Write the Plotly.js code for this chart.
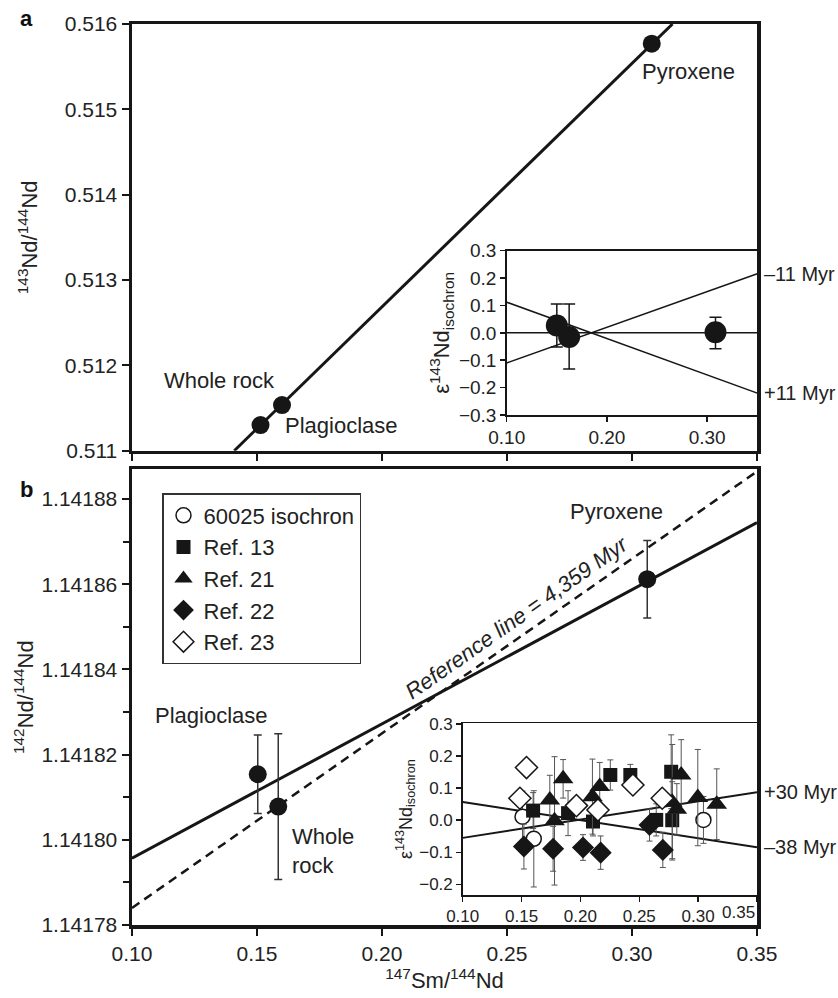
<!DOCTYPE html>
<html><head><meta charset="utf-8">
<script src="https://cdn.plot.ly/plotly-3.0.1.min.js"></script>
<style>html,body{margin:0;padding:0;background:#fff}</style>
</head><body><div id="chart" style="width:838px;height:998px"></div>
<script>
// ---------- Panel a: 143Nd/144Nd isochron ----------
const aSm = [0.1514, 0.1600, 0.3079];
const aNd = [0.51130, 0.511535, 0.51577];
const aLineX = [0.1409, 0.3162];
const aLineY = [0.511, 0.516];
const aYTicks = [0.511, 0.512, 0.513, 0.514, 0.515, 0.516];
const aYLabels = ['0.511', '0.512', '0.513', '0.514', '0.515', '0.516'];

// ---------- Panel a inset: eps143Nd residuals ----------
const iaSm = [0.150, 0.1623, 0.3083];
const iaEps = [0.027, -0.015, 0.002];
const iaErrPlus = [0.078, 0.120, 0.055];
const iaErrMinus = [0.079, 0.117, 0.060];
const iaZeroY = [0, 0];
const iaLineX = [0.10, 0.35];
const iaMinus11Y = [-0.110, 0.216];
const iaPlus11Y = [0.112, -0.220];
const iaXTicks = [0.10, 0.20, 0.30];
const iaXLabels = ['0.10', '0.20', '0.30'];
const iaYTicks = [-0.3, -0.2, -0.1, 0, 0.1, 0.2, 0.3];
const iaYLabels = ['\u22120.3', '\u22120.2', '\u22120.1', '0.0', '0.1', '0.2', '0.3'];

// ---------- Panel b: 142Nd/144Nd ----------
const bSm = [0.1503, 0.1585, 0.3061];
const bNd = [1.1418154, 1.1418078, 1.1418612];
const bErr = [0.0000092, 0.0000171, 0.0000091];
const bLineX = [0.10, 0.35];
const bLineY = [1.1417957, 1.1418745];
const bRefY = [1.1417840, 1.1418865];
const bYTicks = [1.14178, 1.14180, 1.14182, 1.14184, 1.14186, 1.14188];
const bYLabels = ['1.14178', '1.14180', '1.14182', '1.14184', '1.14186', '1.14188'];
const xTicks = [0.10, 0.15, 0.20, 0.25, 0.30, 0.35];
const xLabels = ['0.10', '0.15', '0.20', '0.25', '0.30', '0.35'];

// ---------- Panel b inset: eps143Nd for literature data ----------
const iso60025X = [0.1508, 0.1604, 0.3045];
const iso60025Y = [0.011, -0.058, 0.001];
const iso60025E = [0.080, 0.150, 0.073];
const ref13X = [0.1598, 0.1895, 0.2107, 0.2254, 0.2424, 0.2644, 0.2771, 0.2780];
const ref13Y = [0.030, 0.022, -0.004, 0.141, 0.141, 0.001, 0.151, 0.000];
const ref13E = [0.056, 0.070, 0.045, 0.047, 0.033, 0.050, 0.115, 0.120];
const ref21X = [0.1740, 0.1780, 0.1853, 0.2102, 0.2164, 0.2780, 0.2819, 0.2856, 0.2997, 0.3158];
const ref21Y = [0.063, -0.002, 0.129, 0.0735, 0.105, 0.056, 0.034, 0.141, 0.0705, 0.050];
const ref21E = [0.077, 0.200, 0.060, 0.117, 0.075, 0.180, 0.080, 0.110, 0.150, 0.110];
const ref22X = [0.1520, 0.1768, 0.2022, 0.2172, 0.2587, 0.2700];
const ref22Y = [-0.082, -0.089, -0.085, -0.101, -0.015, -0.0925];
const ref22E = [0.070, 0.070, 0.040, 0.052, 0.050, 0.055];
const ref23X = [0.1486, 0.1542, 0.1966, 0.2149, 0.2446, 0.2695];
const ref23Y = [0.0685, 0.164, 0.0455, 0.032, 0.110, 0.0685];
const ibLineX = [0.10, 0.35];
const ibPlus30Y = [-0.055, 0.087];
const ibMinus38Y = [0.057, -0.084];
const ibXTicks = [0.10, 0.15, 0.20, 0.25, 0.30, 0.35];
const ibXLabels = ['0.10', '0.15', '0.20', '0.25', '0.30', ''];
const ibYTicks = [-0.2, -0.1, 0, 0.1, 0.2, 0.3];
const ibYLabels = ['\u22120.2', '\u22120.1', '0.0', '0.1', '0.2', '0.3'];

const FONT = 'Liberation Sans, Arial, Helvetica, sans-serif';
const INK = '#161616';

const traces = [
  {x: aLineX, y: aLineY, xaxis: 'x', yaxis: 'y', mode: 'lines', line: {color: INK, width: 3}, showlegend: false, hoverinfo: 'skip'},
  {x: aSm, y: aNd, xaxis: 'x', yaxis: 'y', mode: 'markers', marker: {symbol: 'circle', size: 18, color: INK}, showlegend: false},

  {x: bLineX, y: bRefY, xaxis: 'x2', yaxis: 'y2', mode: 'lines', line: {color: INK, width: 2.5, dash: '9px,6px'}, showlegend: false},
  {x: bLineX, y: bLineY, xaxis: 'x2', yaxis: 'y2', mode: 'lines', line: {color: INK, width: 3}, showlegend: false},
  {x: bSm, y: bNd, xaxis: 'x2', yaxis: 'y2', mode: 'markers', marker: {symbol: 'circle', size: 18, color: INK},
   error_y: {type: 'data', array: bErr, color: '#333', thickness: 1.5, width: 4}, showlegend: false},

  {x: iaLineX, y: iaZeroY, xaxis: 'x3', yaxis: 'y3', mode: 'lines', line: {color: INK, width: 1.5}, showlegend: false},
  {x: iaLineX, y: iaMinus11Y, xaxis: 'x3', yaxis: 'y3', mode: 'lines', line: {color: INK, width: 1.5}, showlegend: false},
  {x: iaLineX, y: iaPlus11Y, xaxis: 'x3', yaxis: 'y3', mode: 'lines', line: {color: INK, width: 1.5}, showlegend: false},
  {x: iaSm, y: iaEps, xaxis: 'x3', yaxis: 'y3', mode: 'markers', marker: {symbol: 'circle', size: 22, color: INK},
   error_y: {type: 'data', symmetric: false, array: iaErrPlus, arrayminus: iaErrMinus, color: INK, thickness: 1.5, width: 6}, showlegend: false},

  {x: ibLineX, y: ibPlus30Y, xaxis: 'x4', yaxis: 'y4', mode: 'lines', line: {color: INK, width: 2}, showlegend: false},
  {x: ibLineX, y: ibMinus38Y, xaxis: 'x4', yaxis: 'y4', mode: 'lines', line: {color: INK, width: 2}, showlegend: false},
  {name: '60025 isochron', x: iso60025X, y: iso60025Y, xaxis: 'x4', yaxis: 'y4', mode: 'markers',
   marker: {symbol: 'circle', size: 15, color: '#fff', line: {color: INK, width: 1.5}},
   error_y: {type: 'data', array: iso60025E, color: '#555', thickness: 1, width: 3}},
  {name: 'Ref. 13', x: ref13X, y: ref13Y, xaxis: 'x4', yaxis: 'y4', mode: 'markers',
   marker: {symbol: 'square', size: 14, color: INK},
   error_y: {type: 'data', array: ref13E, color: '#555', thickness: 1, width: 3}},
  {name: 'Ref. 21', x: ref21X, y: ref21Y, xaxis: 'x4', yaxis: 'y4', mode: 'markers',
   marker: {symbol: 'triangle-up', size: 18, color: INK},
   error_y: {type: 'data', array: ref21E, color: '#555', thickness: 1, width: 3}},
  {name: 'Ref. 22', x: ref22X, y: ref22Y, xaxis: 'x4', yaxis: 'y4', mode: 'markers',
   marker: {symbol: 'diamond', size: 17, color: INK},
   error_y: {type: 'data', array: ref22E, color: '#555', thickness: 1, width: 3}},
  {name: 'Ref. 23', x: ref23X, y: ref23Y, xaxis: 'x4', yaxis: 'y4', mode: 'markers',
   marker: {symbol: 'diamond', size: 17, color: '#fff', line: {color: INK, width: 1.5}}}
];

const frame = {showline: true, mirror: true, linecolor: INK, linewidth: 3.5, ticks: 'outside', tickcolor: INK,
  tickwidth: 2, ticklen: 7, showgrid: false, zeroline: false, automargin: false,
  tickfont: {family: FONT, size: 21, color: '#222'}, fixedrange: true};
const inset = {showline: true, mirror: true, linecolor: INK, linewidth: 1.5, ticks: 'outside', tickcolor: INK,
  tickwidth: 1.5, ticklen: 5, showgrid: false, zeroline: false, automargin: false, fixedrange: true};

const X0 = 132 / 838, X1 = 757 / 838;
const layout = {
  width: 838, height: 998,
  margin: {l: 0, r: 0, t: 0, b: 0},
  paper_bgcolor: '#fff', plot_bgcolor: '#fff',
  font: {family: FONT, color: '#222', size: 21},
  xaxis: Object.assign({}, frame, {domain: [X0, X1], anchor: 'y', range: [0.10, 0.35], tickmode: 'array',
    tickvals: xTicks, ticktext: xLabels, showticklabels: false}),
  yaxis: Object.assign({}, frame, {domain: [1 - 450.7 / 998, 1 - 24 / 998], anchor: 'x', range: [0.511, 0.516],
    tickmode: 'array', tickvals: aYTicks, ticktext: aYLabels,
    title: {text: '<sup>143</sup>Nd/<sup>144</sup>Nd', font: {size: 22}, standoff: 22}}),
  xaxis2: Object.assign({}, frame, {domain: [X0, X1], anchor: 'y2', range: [0.10, 0.35], tickmode: 'array',
    tickvals: xTicks, ticktext: xLabels,
    title: {text: '<sup>147</sup>Sm/<sup>144</sup>Nd', font: {size: 22}, standoff: 8}}),
  yaxis2: Object.assign({}, frame, {domain: [1 - 925 / 998, 1 - 469.3 / 998], anchor: 'x2', range: [1.14178, 1.141887],
    tickmode: 'array', tickvals: bYTicks, ticktext: bYLabels,
    minor: {ticks: 'outside', tick0: 1.14179, dtick: 0.00002, ticklen: 6, tickwidth: 2, tickcolor: INK, showgrid: false},
    title: {text: '<sup>142</sup>Nd/<sup>144</sup>Nd', font: {size: 22}, standoff: 2}}),
  xaxis3: Object.assign({}, inset, {domain: [506.7 / 838, 757.3 / 838], anchor: 'y3', range: [0.10, 0.35],
    tickmode: 'array', tickvals: iaXTicks, ticktext: iaXLabels, tickfont: {size: 19}}),
  yaxis3: Object.assign({}, inset, {domain: [1 - 415 / 998, 1 - 250.7 / 998], anchor: 'x3', range: [-0.3, 0.3],
    tickmode: 'array', tickvals: iaYTicks, ticktext: iaYLabels, tickfont: {size: 19},
    title: {text: '\u03b5<sup>143</sup>Nd<sub>isochron</sub>', font: {size: 22}, standoff: 3}}),
  xaxis4: Object.assign({}, inset, {domain: [462.7 / 838, 757 / 838], anchor: 'y4', range: [0.10, 0.35],
    tickmode: 'array', tickvals: ibXTicks, ticktext: ibXLabels, tickfont: {size: 17}}),
  yaxis4: Object.assign({}, inset, {domain: [1 - 895 / 998, 1 - 723.3 / 998], anchor: 'x4', range: [-0.233, 0.302],
    tickmode: 'array', tickvals: ibYTicks, ticktext: ibYLabels, tickfont: {size: 17},
    title: {text: '\u03b5<sup>143</sup>Nd<sub>isochron</sub>', font: {size: 18}, standoff: 2}}),
  showlegend: true,
  legend: {x: 162 / 838, y: 1 - 493 / 998, xanchor: 'left', yanchor: 'top', xref: 'paper', yref: 'paper',
    bgcolor: '#fff', bordercolor: '#333', borderwidth: 1.5, font: {family: FONT, size: 22, color: '#222'},
    tracegroupgap: 0, itemsizing: 'trace', entrywidth: 175, entrywidthmode: 'pixels'},
  annotations: [
    {text: '<b>a</b>', xref: 'paper', yref: 'paper', x: 26 / 838, y: 1 - 19 / 998, xanchor: 'center', yanchor: 'middle', showarrow: false, font: {size: 22, color: '#111'}},
    {text: '<b>b</b>', xref: 'paper', yref: 'paper', x: 26 / 838, y: 1 - 490 / 998, xanchor: 'center', yanchor: 'middle', showarrow: false, font: {size: 22, color: '#111'}},
    {text: 'Pyroxene', xref: 'x', yref: 'y', x: 0.3224, y: 0.515438, showarrow: false, font: {size: 22}},
    {text: 'Whole rock', xref: 'x', yref: 'y', x: 0.1348, y: 0.511828, showarrow: false, font: {size: 22}},
    {text: 'Plagioclase', xref: 'x', yref: 'y', x: 0.1836, y: 0.511301, showarrow: false, font: {size: 22}},
    {text: 'Pyroxene', xref: 'x2', yref: 'y2', x: 0.2936, y: 1.141877, showarrow: false, font: {size: 22}},
    {text: 'Plagioclase', xref: 'x2', yref: 'y2', x: 0.1316, y: 1.1418293, showarrow: false, font: {size: 22}},
    {text: 'Whole<br>rock', xref: 'x2', yref: 'y2', x: 0.1632, y: 1.1417974, xanchor: 'left', align: 'left', showarrow: false, font: {size: 22}},
    {text: '<i>Reference line = 4,359 Myr</i>', xref: 'x2', yref: 'y2', x: 0.254, y: 1.1418521, textangle: -35, showarrow: false, font: {size: 22}},
    {text: '\u201311 Myr', xref: 'x3', yref: 'y3', x: iaLineX[1], y: iaMinus11Y[1], xanchor: 'left', xshift: 5, showarrow: false, font: {size: 20}},
    {text: '+11 Myr', xref: 'x3', yref: 'y3', x: iaLineX[1], y: iaPlus11Y[1], xanchor: 'left', xshift: 5, showarrow: false, font: {size: 20}},
    {text: '+30 Myr', xref: 'x4', yref: 'y4', x: ibLineX[1], y: ibPlus30Y[1], xanchor: 'left', xshift: 5, showarrow: false, font: {size: 20}},
    {text: '\u201338 Myr', xref: 'x4', yref: 'y4', x: ibLineX[1], y: ibMinus38Y[1], xanchor: 'left', xshift: 5, showarrow: false, font: {size: 20}},
    {text: xLabels[5], xref: 'x4', yref: 'y4 domain', x: 0.35, y: 0, xanchor: 'right', yanchor: 'top', yshift: -6, showarrow: false, font: {size: 17}}
  ]
};

Plotly.newPlot('chart', traces, layout, {staticPlot: true, displayModeBar: false});
</script></body></html>
